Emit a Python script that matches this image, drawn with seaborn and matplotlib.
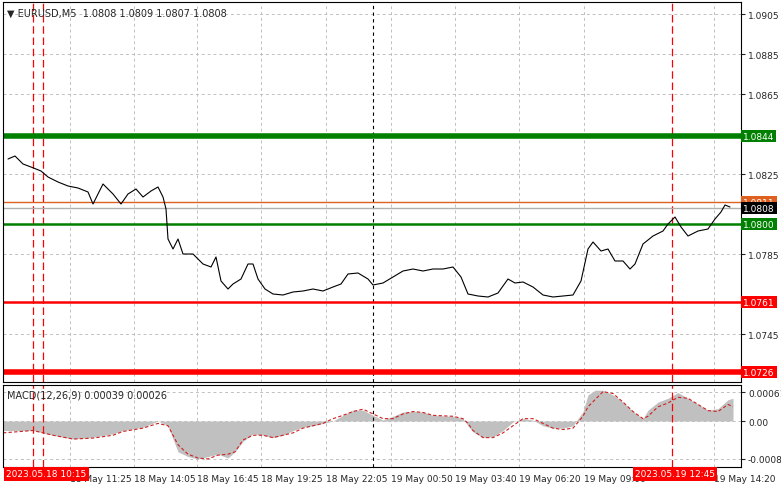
import numpy as np
import pandas as pd
import matplotlib.pyplot as plt
import seaborn as sns

# price trace (bar position, close)
bar_x = [5, 12, 20, 28, 33, 38, 45, 55, 65, 75, 85, 90, 100, 110, 118, 125, 133, 140, 148, 155,
         160, 163, 165, 170, 175, 180, 190, 200, 208, 213, 218, 225, 230, 238, 245, 250, 255, 262,
         270, 280, 290, 300, 310, 320, 330, 338, 345, 355, 365, 370, 380, 390, 400, 410, 420, 430,
         440, 450, 458, 465, 475, 485, 495, 505, 512, 520, 530, 540, 550, 560, 570, 578, 585, 590,
         598, 605, 612, 620, 627, 632, 640, 650, 660, 665, 672, 678, 685, 695, 705, 712, 718, 722, 727]
close = [1.08325, 1.0834, 1.0830, 1.08285, 1.08275, 1.08265, 1.08235, 1.0821, 1.0819, 1.0818,
         1.0816, 1.0810, 1.0820, 1.0815, 1.0810, 1.0815, 1.08175, 1.08135, 1.08165, 1.08185,
         1.08135, 1.08075, 1.07925, 1.07875, 1.07925, 1.0785, 1.0785, 1.078, 1.07785, 1.07835,
         1.07715, 1.07675, 1.077, 1.07725, 1.078, 1.078, 1.07725, 1.07675, 1.0765, 1.07645,
         1.0766, 1.07665, 1.07675, 1.07665, 1.07685, 1.077, 1.0775, 1.07755, 1.07725, 1.07695,
         1.07705, 1.07735, 1.07765, 1.07775, 1.07765, 1.07775, 1.07775, 1.07785, 1.07735, 1.0765,
         1.0764, 1.07635, 1.07655, 1.07725, 1.07705, 1.0771, 1.07685, 1.07645, 1.07635, 1.0764,
         1.07645, 1.07715, 1.07875, 1.0791, 1.07865, 1.07875, 1.07815, 1.07815, 1.07775, 1.078,
         1.079, 1.0794, 1.07965, 1.08, 1.08035, 1.07985, 1.0794, 1.07965, 1.07975, 1.08025,
         1.0806, 1.08095, 1.08085]

# MACD
macd_x = [0, 30, 50, 70, 90, 110, 120, 140, 155, 165, 170, 175, 185, 195, 205, 215, 225, 232,
          240, 250, 260, 270, 280, 290, 300, 310, 320, 330, 340, 350, 360, 370, 380, 390, 400,
          410, 420, 430, 450, 460, 465, 470, 480, 490, 500, 510, 520, 530, 540, 550, 560, 570,
          580, 585, 592, 600, 610, 620, 630, 640, 645, 655, 665, 675, 685, 695, 705, 715, 725, 730]
macd_hist = [-0.0002, -0.0002, -0.0003, -0.00038, -0.00034, -0.00027, -0.0002, -0.00013, 0.0,
             -0.0001, -0.00038, -0.00065, -0.00075, -0.0008, -0.00075, -0.0007, -0.00078, -0.00065,
             -0.00043, -0.00027, -0.0003, -0.00035, -0.0003, -0.0002, -0.00013, -0.0001, -0.00005,
             0.0, 0.00012, 0.00023, 0.00023, 0.00012, 0.00002, 0.0001, 0.00019, 0.0002, 0.00019,
             0.00012, 0.0001, 0.00005, -0.0001, -0.00023, -0.00035, -0.00033, -0.0002, -0.00002,
             0.00005, 0.00002, -0.0001, -0.00015, -0.00015, -0.0001, 0.0002, 0.00055, 0.00065,
             0.00065, 0.00055, 0.0004, 0.0002, 0.00005, 0.00023, 0.0004, 0.00048, 0.0006, 0.00048,
             0.00035, 0.00023, 0.00026, 0.00045, 0.00048]
macd_signal = [-0.00025, -0.0002, -0.0003, -0.00038, -0.00036, -0.0003, -0.00022, -0.00015, -0.00005,
               -0.0001, -0.0003, -0.0005, -0.0007, -0.00078, -0.0008, -0.00072, -0.0007, -0.00065,
               -0.0004, -0.0003, -0.0003, -0.00035, -0.0003, -0.00025, -0.00015, -0.0001, -0.00005,
               0.00005, 0.00012, 0.0002, 0.00025, 0.00015, 0.00005, 0.00005, 0.00015, 0.0002, 0.00018,
               0.00012, 0.0001, 0.00005, -0.00005, -0.0002, -0.00035, -0.00035, -0.00025, -0.0001,
               0.00005, 0.00005, -0.00005, -0.00015, -0.00018, -0.00015, 0.0001, 0.0003, 0.00045,
               0.00062, 0.00058, 0.0004, 0.0002, 0.00005, 0.0001, 0.0003, 0.00038, 0.0005, 0.00048,
               0.00035, 0.00022, 0.0002, 0.00035, 0.0003]

price_ticks = [1.0905, 1.0885, 1.0865, 1.0825, 1.0785, 1.0745]
time_pos = [67, 131, 194, 258, 323, 388, 452, 516, 581, 711]
time_labels = ['18 May 11:25', '18 May 14:05', '18 May 16:45', '18 May 19:25', '18 May 22:05',
               '19 May 00:50', '19 May 03:40', '19 May 06:20', '19 May 09:00', '19 May 14:20']
levels = [(1.0844, 'green', 4), (1.0800, 'green', 1.8), (1.0811, '#e06020', 1),
          (1.0808, '#b0b0b0', 1), (1.0761, 'red', 1.8), (1.0726, 'red', 4)]
red_vlines = [30, 40, 669]

sns.set_style('white')
plt.rcParams['font.family'] = ['DejaVu Sans']
fig = plt.figure(figsize=(7.81, 4.89), dpi=100)
W, H = 781, 489
ax = fig.add_axes([3 / W, 1 - 383 / H, 738 / W, 380 / H])
ax2 = fig.add_axes([3 / W, 1 - 468 / H, 738 / W, 82 / H])

for a in (ax, ax2):
    a.set_xlim(0, 738)
    a.set_xticks(time_pos)
    a.grid(True, color='#c0c0c0', linestyle=(0, (3, 3)), linewidth=0.7)
    a.yaxis.tick_right()
    a.tick_params(axis='y', labelsize=6.5, length=3, pad=2)
    for s in a.spines.values():
        s.set_color('black')
    for v in red_vlines:
        a.axvline(v, color='red', linestyle=(0, (6, 3)), linewidth=0.9)
    a.axvline(370, color='black', linestyle=(0, (3, 3)), linewidth=0.8)

ax.set_xticklabels([])
ax.tick_params(axis='x', length=0)
ax.set_ylim(1.0721, 1.0911)
ax.set_yticks(price_ticks)
ax.set_yticklabels([f'{t:.4f}' for t in price_ticks])

for lv, col, lw in levels:
    ax.axhline(lv, color=col, linewidth=lw)
sns.lineplot(x=bar_x, y=close, ax=ax, color='black', linewidth=0.8)

tr = ax.get_yaxis_transform()
for lv, col, lw in levels:
    bg = 'black' if lv == 1.0808 else col
    ax.text(1.003, lv, f'{lv:.4f}', transform=tr, fontsize=6.5, color='white', va='center',
            ha='left', bbox=dict(boxstyle='square,pad=0.2', fc=bg, ec='none'), clip_on=False)
ax.text(0.005, 0.985, '▼ EURUSD,M5  1.0808 1.0809 1.0807 1.0808', transform=ax.transAxes,
        fontsize=7, va='top')

ax2.fill_between(macd_x, 0, macd_hist, color='#c0c0c0', linewidth=0)
sns.lineplot(x=macd_x, y=macd_signal, ax=ax2, color='#d02020', linewidth=0.8, linestyle=(0, (3, 2)))
ax2.set_ylim(-0.00097, 0.00076)
ax2.set_yticks([0.00061, 0.0, -0.0008])
ax2.set_yticklabels(['0.00061', '0.00', '-0.0008'])
ax2.set_xticklabels(time_labels, fontsize=6.5, ha='left')
ax2.tick_params(axis='x', length=3, pad=2)
ax2.text(0.005, 0.95, 'MACD(12,26,9) 0.00039 0.00026', transform=ax2.transAxes, fontsize=7, va='top')

for xpos, lab in [(3, '2023.05.18 10:15'), (632, '2023.05.19 12:45')]:
    ax2.text(xpos, -0.03, lab, transform=ax2.get_xaxis_transform(), fontsize=6.5, color='white',
             va='top', ha='left', zorder=10, clip_on=False,
             bbox=dict(boxstyle='square,pad=0.25', fc='red', ec='none'))

fig.savefig('out.png', dpi=100)
